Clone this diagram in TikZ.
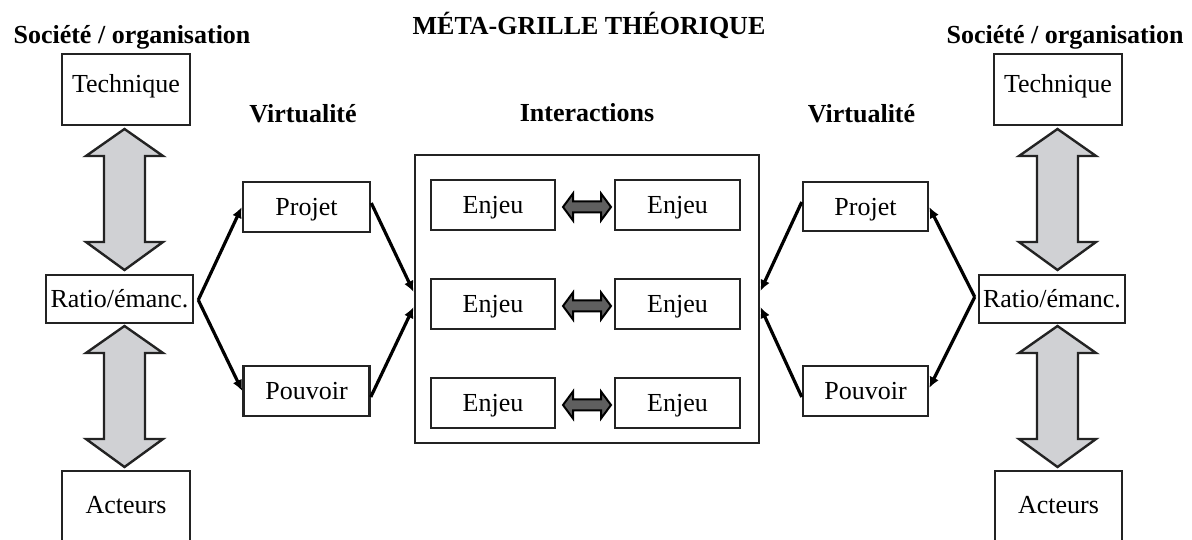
\documentclass[tikz,border=0pt]{standalone}
\usepackage{fontspec}
\setmainfont{Liberation Serif}
\usetikzlibrary{arrows.meta,calc}
\definecolor{lgray}{RGB}{208,209,212}
\definecolor{dgray}{RGB}{95,95,95}
\definecolor{ink}{RGB}{35,35,35}
\newcommand\myDblV[3]{\draw[bigarr] (#1,#2) -- (#1+38.5,#2+27) -- (#1+20.5,#2+27) -- (#1+20.5,#3-28) -- (#1+38.5,#3-28) -- (#1,#3) -- (#1-38.5,#3-28) -- (#1-20.5,#3-28) -- (#1-20.5,#2+27) -- (#1-38.5,#2+27) -- cycle;}
\newcommand\myDblH[3]{\draw[smallarr] (#1,#3) -- (#1+10,#3-13.5) -- (#1+10,#3-5.5) -- (#2-10,#3-5.5) -- (#2-10,#3-13.5) -- (#2,#3) -- (#2-10,#3+13.5) -- (#2-10,#3+5.5) -- (#1+10,#3+5.5) -- (#1+10,#3+13.5) -- cycle;}
\tikzset{
  box/.style={draw=ink, line width=2.5bp, rectangle, inner sep=0pt, text height=17.5bp, text depth=0pt, font=\fontsize{26bp}{30bp}\selectfont},
  head/.style={font=\fontsize{26bp}{30bp}\selectfont\bfseries, inner sep=0pt, anchor=base},
  conn/.style={draw=black, line width=3.2bp, -{Latex[length=11bp,width=10bp]}},
  bigarr/.style={draw=ink, line width=2.4bp, fill=lgray, line join=miter},
  smallarr/.style={draw=black, line width=2bp, fill=dgray, line join=miter},
}
\begin{document}
\begin{tikzpicture}[x=1bp,y=-1bp]
\useasboundingbox (0,0) rectangle (1192,540);
% titles
\node[head] (title) at (589,35) {MÉTA-GRILLE THÉORIQUE};
\node[head] (socL) at (132,44) {Société / organisation};
\node[head] (socR) at (1065,44) {Société / organisation};
\node[head] (virtL) at (303,123) {Virtualité};
\node[head] (inter) at (587,122) {Interactions};
\node[head] (virtR) at (861.5,123) {Virtualité};
% left column
\node[box, minimum width=128bp, minimum height=71bp, text depth=10.5bp] (techL) at (126,89.5) {Technique};
\node[box, minimum width=147bp, minimum height=48bp] (ratioL) at (119.5,299) {Ratio/émanc.};
\node[box, minimum width=128bp, minimum height=76bp, text depth=9.5bp] (actL) at (126,509) {Acteurs};
\myDblV{124.5}{129}{270}
\myDblV{124.5}{326}{467}
% right column
\node[box, minimum width=128bp, minimum height=71bp, text depth=10.5bp] (techR) at (1058,89.5) {Technique};
\node[box, minimum width=146bp, minimum height=48bp] (ratioR) at (1052,299) {Ratio/émanc.};
\node[box, minimum width=127bp, minimum height=76bp, text depth=9.5bp] (actR) at (1058.5,509) {Acteurs};
\myDblV{1057.5}{129}{270}
\myDblV{1057.5}{326}{467}
% virtualite boxes
\node[box, minimum width=127bp, minimum height=50bp] (projL) at (306.5,207) {Projet};
\node[box, minimum width=126bp, minimum height=50bp] (pouvL) at (306.5,391) {Pouvoir};
\node[box, minimum width=125bp, minimum height=49bp] (projR) at (865.5,206.5) {Projet};
\node[box, minimum width=125bp, minimum height=50bp] (pouvR) at (865.5,391) {Pouvoir};
% interactions frame
\node[draw=ink, line width=2.8bp, minimum width=344bp, minimum height=288bp, inner sep=0pt] (frame) at (587,299) {};
\foreach \i/\y in {1/205,2/304,3/403}{
  \node[box, minimum width=124bp, minimum height=50bp] (eL\i) at (493,\y) {Enjeu};
  \node[box, minimum width=125bp, minimum height=50bp] (eR\i) at (677.5,\y) {Enjeu};
  \myDblH{563}{611}{\y+2}
}
% connectors left
\coordinate (vL) at ($(ratioL.east)+(4,1)$);
\draw[conn] (vL) -- (projL.west);
\draw[conn] (vL) -- (pouvL.west);
\draw[conn] ($(projL.east)+(0,-4)$) -- ($(frame.west)+(0,-7)$);
\draw[conn] ($(pouvL.east)+(0,6)$) -- ($(frame.west)+(0,8)$);
% connectors right
\coordinate (vR) at ($(ratioR.west)+(-3,-2)$);
\draw[conn] (vR) -- ($(projR.east)+(0,0.5)$);
\draw[conn] (vR) -- ($(pouvR.east)+(0,-3)$);
\draw[conn] ($(projR.west)+(0,-4.5)$) -- ($(frame.east)+(0,-8)$);
\draw[conn] ($(pouvR.west)+(0,6)$) -- ($(frame.east)+(0,8)$);
\end{tikzpicture}
\end{document}
